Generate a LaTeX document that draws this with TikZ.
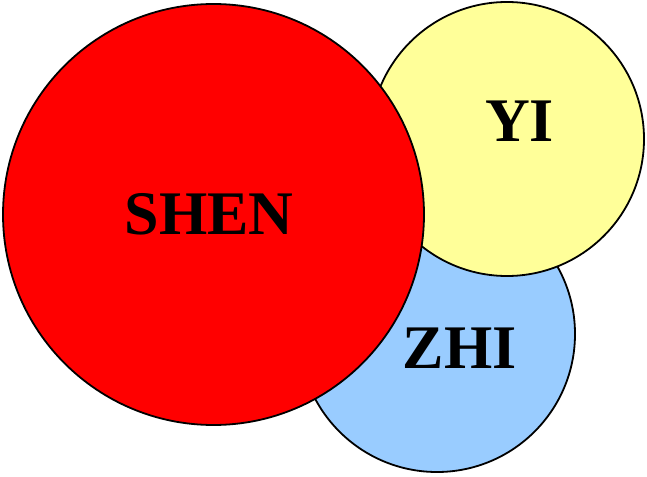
\documentclass[tikz,border=0pt]{standalone}
\usepackage{fontspec}
\setmainfont{Liberation Serif}
\begin{document}
\begin{tikzpicture}[x=1pt,y=-1pt,
  disc/.style={draw=black,line width=1.8pt,circle,inner sep=0pt,outer sep=0pt},
  lbl/.style={inner sep=0pt,font=\fontsize{62}{62}\selectfont\bfseries}]
\useasboundingbox (0,0) rectangle (647,476);
\definecolor{shenred}{HTML}{FF0000}
\definecolor{yiyellow}{HTML}{FFFF99}
\definecolor{zhiblue}{HTML}{99CCFF}
\node[disc,fill=zhiblue,minimum size=276pt] (zhi) at (437,334) {};
\node[disc,fill=yiyellow,minimum size=274pt] (yi) at (507,139) {};
\node[disc,fill=shenred,minimum size=421pt] (shen) at (213.5,214.5) {};
\node[lbl] (shentext) at (209,214) {SHEN};
\node[lbl] (yitext) at (519.5,121.5) {YI};
\node[lbl] (zhitext) at (459.5,348) {ZHI};
\end{tikzpicture}
\end{document}
